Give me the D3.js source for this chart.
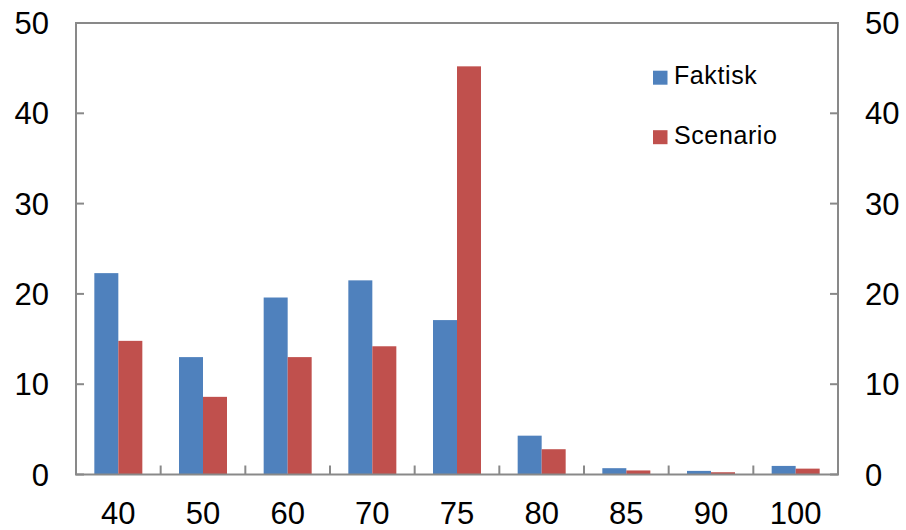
<!DOCTYPE html>
<html><head><meta charset="utf-8">
<script src="https://cdn.jsdelivr.net/npm/d3@7"></script>
<style>body{margin:0;background:#fff}svg{display:block}</style>
</head><body>
<svg id="c" width="906" height="530"></svg>
<script>
const categories = ["40","50","60","70","75","80","85","90","100"];
const faktisk = [22.3,13.0,19.6,21.5,17.1,4.3,0.7,0.4,0.95];
const scenario = [14.8,8.6,13.0,14.2,45.2,2.8,0.45,0.25,0.65];
const seriesNames = ["Faktisk","Scenario"];
const colors = ["#4F81BD","#C0504D"];
const yTicks = [0,10,20,30,40,50];

const svg = d3.select("#c");
const L = 76, R = 838, T = 23, B = 474.5;
const font = "'Liberation Sans', Arial, sans-serif";
const axisCol = "#898989";

const x = d3.scaleBand().domain(categories).range([L, R]).paddingInner(0).paddingOuter(0);
const y = d3.scaleLinear().domain([0, 50]).range([B, T]);
const bw = 24;

// bars
const seriesData = [faktisk, scenario];
seriesData.forEach((vals, si) => {
  svg.append("g").selectAll("rect").data(vals).join("rect")
    .attr("x", (d, i) => x(categories[i]) + x.bandwidth()/2 - bw + si*bw)
    .attr("y", d => y(d))
    .attr("width", bw)
    .attr("height", d => B - y(d))
    .attr("fill", colors[si]);
});

// frame
const g = svg.append("g").attr("stroke", axisCol).attr("stroke-width", 2).attr("fill", "none");
g.append("rect").attr("x", L).attr("y", T).attr("width", R - L).attr("height", B - T);

// left/right ticks inward
yTicks.forEach(t => {
  g.append("line").attr("x1", L).attr("x2", L + 8).attr("y1", y(t)).attr("y2", y(t));
  g.append("line").attr("x1", R).attr("x2", R - 8).attr("y1", y(t)).attr("y2", y(t));
});
// x ticks at category boundaries, inward
categories.slice(1).forEach(c => {
  g.append("line").attr("x1", x(c)).attr("x2", x(c)).attr("y1", B).attr("y2", B - 9);
});

// labels
const lab = svg.append("g").attr("font-family", font).attr("font-size", 31).attr("fill", "#000");
yTicks.forEach(t => {
  lab.append("text").attr("x", 49).attr("y", y(t) + 11).attr("text-anchor", "end").text(t);
  lab.append("text").attr("x", 865).attr("y", y(t) + 11).attr("text-anchor", "start").text(t);
});
categories.forEach(c => {
  lab.append("text").attr("x", x(c) + x.bandwidth()/2).attr("y", 524).attr("text-anchor", "middle").text(c);
});

// legend
const leg = svg.append("g").attr("font-family", font).attr("font-size", 25).attr("letter-spacing", "0.6px").attr("fill", "#000");
seriesNames.forEach((n, i) => {
  const base = 84.3 + i * 59.5;
  svg.append("rect").attr("x", 653).attr("y", base - 13.6).attr("width", 14.5).attr("height", 14).attr("fill", colors[i]);
  leg.append("text").attr("x", 674).attr("y", base).text(n);
});
</script>
</body></html>
